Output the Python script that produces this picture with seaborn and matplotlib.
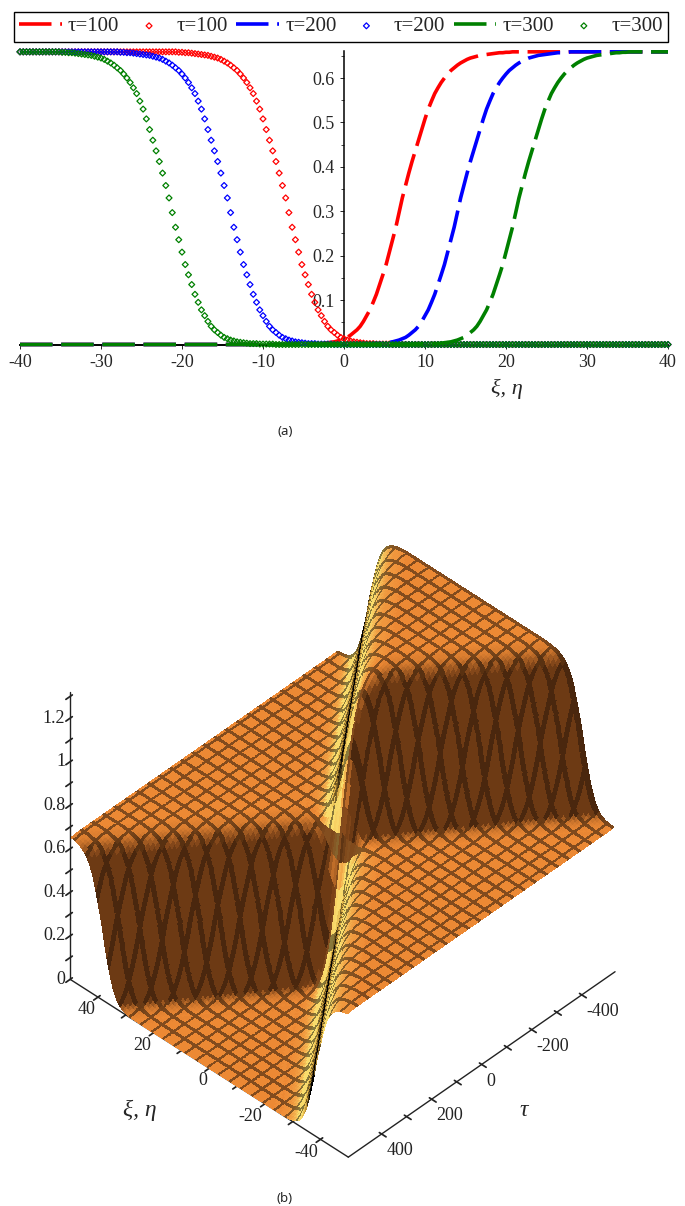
import numpy as np
import pandas as pd
import matplotlib
matplotlib.use('Agg')
import matplotlib.pyplot as plt
import seaborn as sns

# values
# height of one wall, one entry every 0.4 in xi, from 14 below its centre to 14 above
wall_step = 0.4
wall_height = [0.000, 0.000, 0.000, 0.001, 0.001, 0.001, 0.001, 0.001, 0.002, 0.002,
               0.002, 0.003, 0.004, 0.005, 0.006, 0.008, 0.010, 0.013, 0.016, 0.021,
               0.027, 0.033, 0.041, 0.052, 0.065, 0.078, 0.095, 0.113, 0.135, 0.157,
               0.180, 0.208, 0.236, 0.264, 0.297, 0.330, 0.358, 0.386, 0.412, 0.436,
               0.460, 0.484, 0.508, 0.530, 0.548, 0.565, 0.578, 0.590, 0.600, 0.609,
               0.617, 0.623, 0.629, 0.634, 0.638, 0.642, 0.645, 0.647, 0.649, 0.651,
               0.652, 0.653, 0.654, 0.655, 0.656, 0.657, 0.657, 0.658, 0.658, 0.659,
               0.659]
tau_labels = ['τ=100', 'τ=200', 'τ=300']
wall_shift_steps = [18, 36, 54]   # centre at 7.2, 14.4, 21.6
line_colors = ['#ff0000', '#0000ff', '#008000']

x_ticks = [-40, -30, -20, -10, 0, 10, 20, 30, 40]
y_ticks = [0.1, 0.2, 0.3, 0.4, 0.5, 0.6]

# surface: the wall moves one xi cell per tau row
surf_xi_cells = 62      # cells either side of 0, 0.8 wide
surf_tau_rows = 48      # rows either side of 0
surf_tau_per_row = 11.11
z_ticks = [0, 0.1, 0.2, 0.3, 0.4, 0.5, 0.6, 0.7, 0.8, 0.9, 1.0, 1.1, 1.2, 1.3]
z_tick_labels = ['0', '', '0.2', '', '0.4', '', '0.6', '', '0.8', '', '1', '', '1.2', '']
xi_ticks = [-40, -30, -20, -10, 0, 10, 20, 30, 40]
xi_tick_labels = ['-40', '', '-20', '', '0', '', '20', '', '40']
tau_ticks = [-400, -300, -200, -100, 0, 100, 200, 300, 400]
tau_tick_labels = ['-400', '', '-200', '', '0', '', '200', '', '400']
surf_colors = ['#000000', '#d8a840', '#f9dc6c', '#f9dc6c', '#ee8a35',
               '#6d3a14', '#6d3a14', '#6d3a14', '#6d3a14']

sns.set_theme(style='white')
plt.rcParams['font.family'] = ['Liberation Serif', 'DejaVu Serif']

W, H = 685, 1206
fig = plt.figure(figsize=(W / 100, H / 100), dpi=100)

wall = np.array(wall_height)
half = (len(wall) - 1) // 2


def wall_at(idx):
    # table lookup, flat past both ends of the table
    return wall[np.clip(idx + half, 0, len(wall) - 1)]


# ---- panel (a) ----
ax = fig.add_axes([20 / W, 1 - 344.5 / H, 648 / W, 294 / H])
idx = np.arange(-100, 101)
xi = idx * wall_step

for label, shift, color in zip(tau_labels, wall_shift_steps, line_colors):
    df = pd.DataFrame({'xi': xi, 'dash': wall_at(idx - shift), 'dots': wall_at(-idx - shift)})
    sns.lineplot(data=df, x='xi', y='dash', color=color, linewidth=2.6, ax=ax, label=label,
                 linestyle=(0, (9.0, 2.4)), dash_capstyle='butt', clip_on=False, zorder=3)
    sns.scatterplot(data=df, x='xi', y='dots', marker='D', s=9, facecolor='none', edgecolor=color,
                    linewidth=0.9, ax=ax, label=label, clip_on=False, zorder=3)

ax.set_xlim(-40, 40)
ax.set_ylim(0, 0.662)
ax.set_xlabel('')
ax.set_ylabel('')
ax.spines['top'].set_visible(False)
ax.spines['right'].set_visible(False)
ax.spines['left'].set_position(('data', 0))
ax.spines['left'].set_linewidth(1.1)
ax.spines['bottom'].set_linewidth(1.4)
ax.spines['left'].set_color('black')
ax.spines['bottom'].set_color('black')
ax.set_xticks(x_ticks)
ax.set_yticks(y_ticks)
ax.set_yticks([0.05, 0.15, 0.25, 0.35, 0.45, 0.55, 0.65], minor=True)
ax.tick_params(axis='both', which='major', length=3, width=0.7, labelsize=13, left=True, bottom=True, pad=4)
ax.tick_params(axis='y', which='minor', length=2, width=0.6, left=True)
ax.set_xticklabels([str(v) for v in x_ticks])
ax.patch.set_alpha(0)

handles, labels = ax.get_legend_handles_labels()
ax.get_legend().remove()
fig.legend(handles, labels, ncol=6, loc='center', bbox_to_anchor=(341 / W, 1 - 26.5 / H),
           fontsize=15, frameon=True, fancybox=False, edgecolor='black', framealpha=1,
           handlelength=2.05, handletextpad=0.3, columnspacing=0.4, borderpad=0.25, borderaxespad=0)

fig.text(507 / W, 1 - 389 / H, 'ξ, η', fontsize=16, style='italic', ha='center', va='center')
fig.text(285 / W, 1 - 432 / H, '(a)', fontsize=9.5, ha='center', va='center', family='Noto Sans')

# ---- panel (b) ----
ax3 = fig.add_axes([34.5 / W, 1 - 1140 / H, 600 / W, 600 / H], projection='3d', proj_type='ortho')
ax3.patch.set_alpha(0)

# wall table every second entry, so one cell is 0.8 in xi
j = np.arange(-surf_xi_cells, surf_xi_cells + 1)
k = np.arange(-surf_tau_rows, surf_tau_rows + 1)
J, K = np.meshgrid(j, k)
Z = wall_at(2 * (J - K)) + wall_at(2 * (-J - K))
X = J * 2 * wall_step
Y = K * surf_tau_per_row

slope = np.gradient(Z, axis=1)
cmap = sns.blend_palette(surf_colors, as_cmap=True)
face = cmap(0.5 + 0.5 * slope / np.abs(slope).max())
# grid lines sit in the facets so the walls hide them properly
mesh = ((J % 5) == 0) | ((K % 4) == 0)
face[mesh, :3] *= np.where(slope[mesh] > 0.01, 0.68, 0.55)[:, None]

ax3.plot_surface(X, Y, Z, facecolors=face, rstride=1, cstride=1, shade=False,
                 linewidth=0, antialiased=False)

ax3.set_xlim(-50, 50)
ax3.set_ylim(-533, 533)
ax3.set_zlim(0, 1.32)
ax3.set_box_aspect((1, 1, 1), zoom=1.08)
ax3.view_init(elev=41.8, azim=133.8)
ax3.grid(False)
for axis in (ax3.xaxis, ax3.yaxis, ax3.zaxis):
    axis.set_pane_color((1, 1, 1, 0))
    axis.line.set_color('#222222')
    axis.line.set_linewidth(1.0)
ax3.set_xticks(xi_ticks)
ax3.set_xticklabels(xi_tick_labels, ha='right')
ax3.set_yticks(tau_ticks)
ax3.set_yticklabels(tau_tick_labels, ha='left')
ax3.set_zticks(z_ticks)
ax3.set_zticklabels(z_tick_labels, va='center', ha='right')
ax3.tick_params(labelsize=13, colors='#222222')
ax3.tick_params(axis='x', pad=-6)
ax3.tick_params(axis='y', pad=-4)
ax3.tick_params(axis='z', pad=-6)
ax3.zaxis.set_ticks_position('upper')

fig.text(140 / W, 1 - 1110 / H, 'ξ, η', fontsize=17, style='italic', ha='center', va='center')
fig.text(524 / W, 1 - 1110 / H, 'τ', fontsize=17, style='italic', ha='center', va='center')
fig.text(285 / W, 1 - 1198 / H, '(b)', fontsize=9.5, ha='center', va='center', family='Noto Sans')

fig.savefig('out.png', dpi=100)
